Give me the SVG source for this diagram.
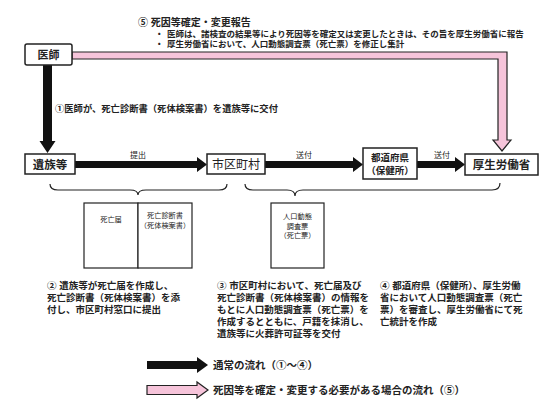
<svg xmlns="http://www.w3.org/2000/svg" width="560" height="420" viewBox="0 0 560 420">
<style>
text{font-family:"Liberation Sans","Noto Sans CJK JP",sans-serif;fill:#222;}
.b{font-weight:700;}
.node{fill:#fff;stroke:#222;stroke-width:1.5;}
.doc{fill:#fff;stroke:#222;stroke-width:1.2;}
.blk{fill:#111;stroke:none;}
.pink{fill:#f6c4da;stroke:#222;stroke-width:1.2;}
.brace{fill:none;stroke:#222;stroke-width:1.2;}
.lbl{font-size:8px;}
.note{font-size:9.5px;font-weight:700;}
</style>
<rect width="560" height="420" fill="#fff"/>

<g id="top-text">
<text class="b" font-size="8.5"><tspan x="138" y="26" font-size="10">⑤ 死因等確定・変更報告</tspan><tspan x="155" y="36.5">・</tspan><tspan x="167" y="36.5">医師は、諸検査の結果等により死因等を確定又は変更したときは、その旨を厚生労働省に報告</tspan><tspan x="155" y="46.5">・</tspan><tspan x="167" y="46.5">厚生労働省において、人口動態調査票（死亡票）を修正し集計</tspan></text>
</g>

<g id="connectors">
<path class="pink" d="M72,52 H507 V140 H511 L502,151 L493,140 H498 V59 H72 Z"/>
<path class="blk" d="M43,65 H52 V141 H55.5 L47.5,153 L39.5,141 H43 Z"/>
<path class="blk" d="M75,161 H197 V157 L207,164.5 L197,172 V168 H75 Z"/>
<path class="blk" d="M265,161 H353 V157 L363,164.5 L353,172 V168 H265 Z"/>
<path class="blk" d="M417,161 H455 V157 L465,164.5 L455,172 V168 H417 Z"/>
<text x="138" y="158" class="lbl" text-anchor="middle">提出</text>
<text x="304" y="158" class="lbl" text-anchor="middle">送付</text>
<text x="442" y="158" class="lbl" text-anchor="middle">送付</text>
<text x="55" y="112" font-size="9.3" class="b">①医師が、死亡診断書（死体検案書）を遺族等に交付</text>
<path class="brace" d="M50,184 Q50,190 58,190 H130 Q138,190 138,195 Q138,190 146,190 H219 Q227,190 227,184"/>
<path class="brace" d="M245,184 Q245,190 253,190 H287 Q295,190 295,196 Q295,190 303,190 H492 Q500,190 500,183"/>
</g>

<g id="node-ishi">
<rect class="node" x="25" y="44" width="47" height="21" rx="2"/>
<text x="48.5" y="59" font-size="11" class="b" text-anchor="middle">医師</text>
</g>

<g id="node-izoku">
<rect class="node" x="25" y="154" width="50" height="20"/>
<text x="50" y="168.5" font-size="11.5" class="b" text-anchor="middle">遺族等</text>
</g>

<g id="node-shiku">
<rect class="node" x="207" y="154" width="58" height="20"/>
<text x="236" y="168.5" font-size="12" text-anchor="middle">市区町村</text>
</g>

<g id="node-todofuken">
<rect class="node" x="363" y="148" width="54" height="31"/>
<text font-size="9.5" class="b" text-anchor="middle"><tspan x="390" y="161">都道府県</tspan><tspan x="390" y="174">（保健所）</tspan></text>
</g>

<g id="node-kosei">
<rect class="node" x="465" y="154" width="73" height="21"/>
<text x="501.5" y="169" font-size="11.5" class="b" text-anchor="middle">厚生労働省</text>
</g>

<g id="doc-shibou">
<rect class="doc" x="84" y="203" width="54" height="65"/>
<rect class="doc" x="138" y="203" width="54" height="65"/>
<text x="111" y="222" font-size="7.2" text-anchor="middle">死亡届</text>
<text font-size="7.2" text-anchor="middle"><tspan x="165" y="218">死亡診断書</tspan><tspan x="165" y="227.5">（死体検案書）</tspan></text>
</g>

<g id="doc-jinko">
<rect class="doc" x="271" y="203" width="53" height="65"/>
<text font-size="7.2" text-anchor="middle"><tspan x="297.5" y="219">人口動態</tspan><tspan x="297.5" y="228.5">調査票</tspan><tspan x="297.5" y="238">（死亡票）</tspan></text>
</g>

<g id="note-2">
<text class="note"><tspan x="47" y="288.5">②  遺族等が死亡届を作成し、</tspan><tspan x="47" y="300.5">死亡診断書（死体検案書）を添</tspan><tspan x="47" y="312.5">付し、市区町村窓口に提出</tspan></text>
</g>

<g id="note-3">
<text class="note"><tspan x="217" y="288.5">③  市区町村において、死亡届及び</tspan><tspan x="217" y="300.5">死亡診断書（死体検案書）の情報を</tspan><tspan x="217" y="312.5">もとに人口動態調査票（死亡票）を</tspan><tspan x="217" y="324.5">作成するとともに、戸籍を抹消し、</tspan><tspan x="217" y="336.5">遺族等に火葬許可証等を交付</tspan></text>
</g>

<g id="note-4">
<text class="note"><tspan x="380" y="288.5">④  都道府県（保健所）、厚生労働</tspan><tspan x="380" y="300.5">省において人口動態調査票（死亡</tspan><tspan x="380" y="312.5">票）を審査し、厚生労働省にて死</tspan><tspan x="380" y="324.5">亡統計を作成</tspan></text>
</g>

<g id="legend">
<path class="blk" d="M147,361 H197 V357 L208,365 L197,373 V369 H147 Z"/>
<text x="213" y="369" font-size="10.5" class="b">通常の流れ（①～④）</text>
<path class="pink" d="M147,385.5 H197 V382 L208,390 L197,398 V394.5 H147 Z"/>
<text x="213" y="394" font-size="10.5" class="b">死因等を確定・変更する必要がある場合の流れ（⑤）</text>
</g>
</svg>
